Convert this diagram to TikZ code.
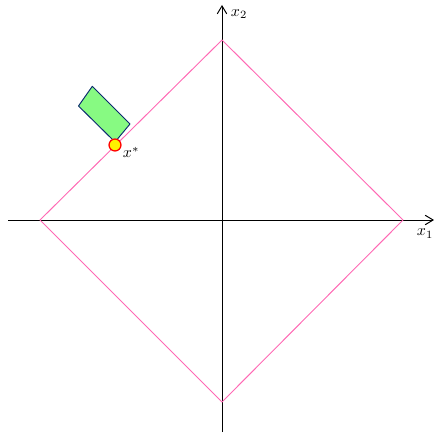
\documentclass[tikz,border=0pt]{standalone}
\usetikzlibrary{arrows.meta}
\begin{document}
\begin{tikzpicture}[x=0.0221cm,y=-0.0221cm,
  axis/.style={-{Straight Barb[length=5pt,width=6pt,line width=0.6pt]},black,line width=0.5pt},
  ball/.style={draw={rgb,255:red,255;green,105;blue,180},line width=0.6pt},
  feas/.style={draw={rgb,255:red,10;green,40;blue,110},fill={rgb,255:red,135;green,250;blue,130},line width=0.6pt,line join=round},
  opt/.style={circle,draw=red,fill=yellow,line width=0.8pt,minimum size=7.5pt,inner sep=0pt}]
\useasboundingbox (0,0) rectangle (434,434);
% axes
\coordinate (xl) at (8,220);
\coordinate (xr) at (434,220);
\coordinate (yb) at (222,432);
\coordinate (yt) at (222,5);
\draw[axis] (xl) -- (xr);
\draw[axis] (yb) -- (yt);
\node[anchor=north west,inner sep=1pt] (lx1) at (415,227) {$x_1$};
\node[anchor=west,inner sep=1pt] (lx2) at (229,14) {$x_2$};
% L1 ball
\coordinate (R) at (403,220);
\coordinate (T) at (222,40);
\coordinate (L) at (40,220);
\coordinate (B) at (222,402);
\draw[ball] (R) -- (T) -- (L) -- (B) -- cycle;
% feasible set
\coordinate (A) at (115,142);
\coordinate (Bc) at (130,124);
\coordinate (C) at (92.3,86.3);
\coordinate (D) at (78.5,106);
\draw[feas] (A) -- (Bc) -- (C) -- (D) -- cycle;
% optimum
\node[opt] (xs) at (115,145) {};
\node[anchor=north west,inner sep=1pt] (lxs) at (121,145) {$x^*$};
\end{tikzpicture}
\end{document}
